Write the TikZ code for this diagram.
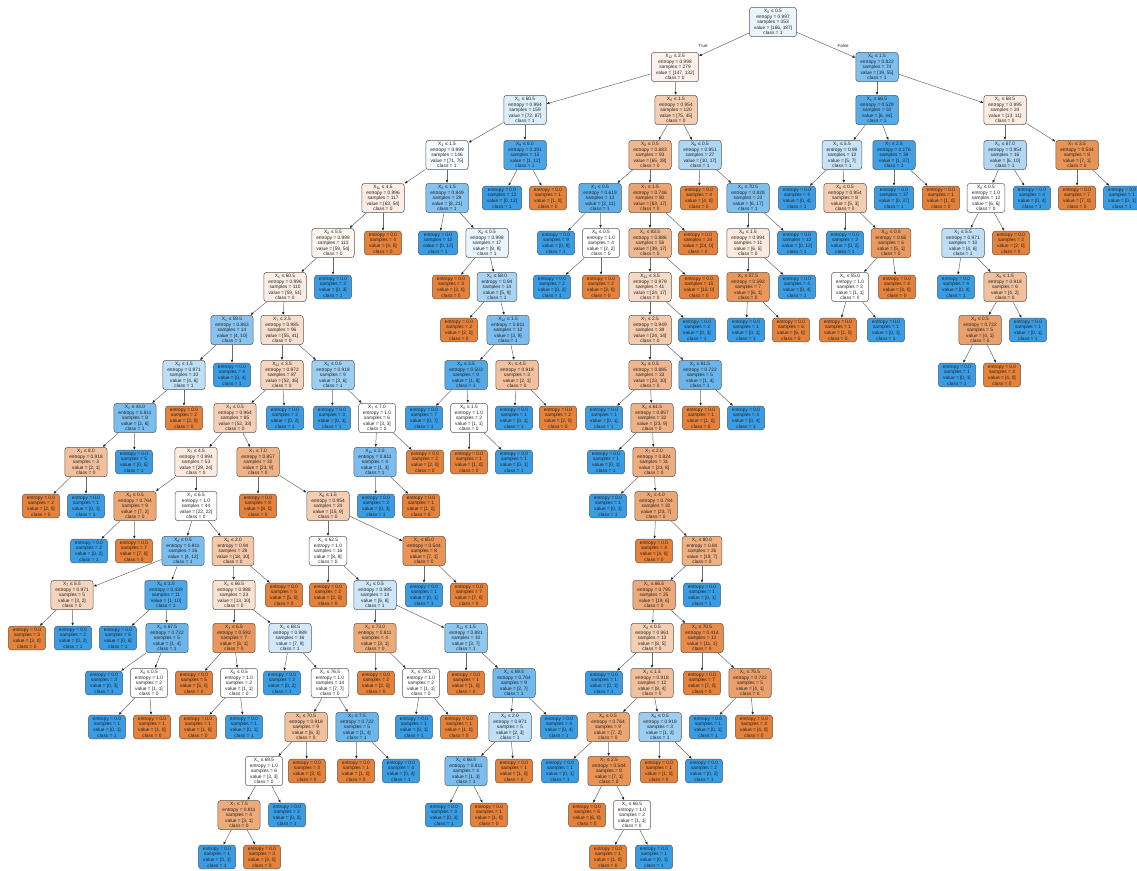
\documentclass[tikz,border=0pt]{standalone}
\usepackage{fontspec}
\setmainfont{Liberation Sans}
\usetikzlibrary{arrows.meta}
\definecolor{dtorange}{HTML}{E58139}
\definecolor{dtblue}{HTML}{399DE5}
\definecolor{dtink}{HTML}{222222}
\definecolor{dtedge}{HTML}{6A6A6A}
\newcommand{\dtsplit}[6]{X\textsubscript{#1} ≤ #2\\entropy = #3\\samples = #4\\value = [#5]\\class = #6}
\tikzset{
  treebox/.style={draw=black!65,rounded corners=3pt,line width=0.5pt,align=center,
    inner xsep=4.5pt,inner ysep=1.8pt,text=dtink,font=\fontsize{4.8}{5.6}\selectfont},
  orangeleaf/.style={treebox,fill=dtorange},
  blueleaf/.style={treebox,fill=dtblue},
  treeedge/.style={draw=dtedge,line width=0.5pt,-{Latex[length=3pt,width=2.6pt,color=black!85]}},
  edgelabel/.style={font=\fontsize{4.5}{5}\selectfont,text=dtink,inner sep=0pt},
}

\begin{document}
\begin{tikzpicture}[x=1pt,y=-1pt]
  \useasboundingbox (0,0) rectangle (1137,870);
  % split nodes
  \node[treebox,fill=dtblue!11!white] (t0) at (773,22) {\dtsplit{0}{0.5}{0.997}{353}{166, 187}{1}};
  \node[treebox,fill=dtorange!10!white] (t1) at (675,67) {\dtsplit{12}{2.5}{0.998}{279}{147, 132}{0}};
  \node[treebox,fill=dtblue!65!white] (t2) at (877,67) {\dtsplit{6}{1.5}{0.822}{74}{19, 55}{1}};
  \node[treebox,fill=dtblue!17!white] (t3) at (525,110) {\dtsplit{1}{60.5}{0.994}{159}{72, 87}{1}};
  \node[treebox,fill=dtorange!40!white] (t4) at (676,110) {\dtsplit{6}{1.5}{0.954}{120}{75, 45}{0}};
  \node[treebox,fill=dtblue!86!white] (t5) at (877,110) {\dtsplit{1}{66.5}{0.529}{50}{6, 44}{1}};
  \node[treebox,fill=dtorange!15!white] (t6) at (1005,110) {\dtsplit{1}{68.5}{0.995}{24}{13, 11}{0}};
  \node[treebox,fill=dtblue!5!white] (t7) at (447,155) {\dtsplit{3}{1.5}{0.999}{146}{71, 75}{1}};
  \node[treebox,fill=dtblue!92!white] (t8) at (525,155) {\dtsplit{8}{6.0}{0.391}{13}{1, 12}{1}};
  \node[treebox,fill=dtorange!14!white] (t11) at (383,198) {\dtsplit{11}{4.5}{0.996}{117}{63, 54}{0}};
  \node[treebox,fill=dtblue!62!white] (t12) at (447,198) {\dtsplit{8}{1.5}{0.849}{29}{8, 21}{1}};
  \node[treebox,fill=dtblue!11!white] (t14) at (487,243) {\dtsplit{8}{0.5}{0.998}{17}{8, 9}{1}};
  \node[treebox,fill=dtblue!44!white] (t16) at (497,287) {\dtsplit{1}{58.0}{0.94}{14}{5, 9}{1}};
  \node[treebox,fill=dtblue!67!white] (t18) at (508,330) {\dtsplit{12}{1.5}{0.811}{12}{3, 9}{1}};
  \node[treebox,fill=dtblue!88!white] (t19) at (466,375) {\dtsplit{8}{3.5}{0.503}{9}{1, 8}{1}};
  \node[treebox,fill=dtorange!50!white] (t20) at (517,375) {\dtsplit{7}{4.5}{0.918}{3}{2, 1}{0}};
  \node[treebox,fill=white] (t22) at (469,418) {\dtsplit{8}{1.5}{1.0}{2}{1, 1}{0}};
  \node[treebox,fill=dtorange!8!white] (t27) at (333,243) {\dtsplit{8}{5.5}{0.999}{113}{59, 54}{0}};
  \node[treebox,fill=dtorange!14!white] (t29) at (285,287) {\dtsplit{1}{60.5}{0.996}{110}{59, 51}{0}};
  \node[treebox,fill=dtblue!60!white] (t31) at (232,330) {\dtsplit{1}{59.5}{0.863}{14}{4, 10}{1}};
  \node[treebox,fill=dtorange!25!white] (t32) at (282,330) {\dtsplit{7}{2.5}{0.985}{96}{55, 41}{0}};
  \node[treebox,fill=dtblue!33!white] (t33) at (184,375) {\dtsplit{8}{1.5}{0.971}{10}{4, 6}{1}};
  \node[treebox,fill=dtblue!67!white] (t35) at (135,418) {\dtsplit{1}{44.0}{0.811}{8}{2, 6}{1}};
  \node[treebox,fill=dtorange!50!white] (t37) at (86,462) {\dtsplit{1}{8.0}{0.918}{3}{2, 1}{0}};
  \node[treebox,fill=dtorange!33!white] (t41) at (282,375) {\dtsplit{12}{3.5}{0.972}{87}{52, 35}{0}};
  \node[treebox,fill=dtblue!50!white] (t42) at (333,375) {\dtsplit{0}{0.5}{0.918}{9}{3, 6}{1}};
  \node[treebox,fill=white] (t44) at (377,418) {\dtsplit{7}{7.0}{1.0}{6}{3, 3}{0}};
  \node[treebox,fill=dtblue!67!white] (t45) at (375,462) {\dtsplit{11}{2.0}{0.811}{4}{1, 3}{1}};
  \node[treebox,fill=dtorange!37!white] (t49) at (235,418) {\dtsplit{3}{0.5}{0.964}{85}{52, 33}{0}};
  \node[treebox,fill=dtorange!17!white] (t51) at (196,462) {\dtsplit{7}{4.5}{0.994}{53}{29, 24}{0}};
  \node[treebox,fill=dtorange!61!white] (t52) at (258,462) {\dtsplit{7}{7.0}{0.857}{32}{23, 9}{0}};
  \node[treebox,fill=dtorange!40!white] (t54) at (328,506) {\dtsplit{8}{1.5}{0.954}{24}{15, 9}{0}};
  \node[treebox,fill=white] (t55) at (328,551) {\dtsplit{1}{62.5}{1.0}{16}{8, 8}{0}};
  \node[treebox,fill=dtorange!86!white] (t56) at (424,551) {\dtsplit{1}{65.0}{0.544}{8}{7, 1}{0}};
  \node[treebox,fill=dtblue!25!white] (t60) at (375,595) {\dtsplit{4}{0.5}{0.985}{14}{6, 8}{1}};
  \node[treebox,fill=dtorange!67!white] (t61) at (375,638) {\dtsplit{1}{73.0}{0.811}{4}{3, 1}{0}};
  \node[treebox,fill=dtblue!57!white] (t62) at (466,638) {\dtsplit{12}{1.5}{0.881}{10}{3, 7}{1}};
  \node[treebox,fill=white] (t64) at (421,683) {\dtsplit{1}{78.5}{1.0}{2}{1, 1}{0}};
  \node[treebox,fill=dtblue!71!white] (t68) at (514,683) {\dtsplit{1}{69.5}{0.764}{9}{2, 7}{1}};
  \node[treebox,fill=dtblue!33!white] (t69) at (510,727) {\dtsplit{8}{2.0}{0.971}{5}{2, 3}{1}};
  \node[treebox,fill=dtblue!67!white] (t71) at (466,771) {\dtsplit{1}{66.5}{0.811}{4}{1, 3}{1}};
  \node[treebox,fill=dtorange!71!white] (t75) at (135,506) {\dtsplit{8}{0.5}{0.764}{9}{7, 2}{0}};
  \node[treebox,fill=white] (t76) at (196,506) {\dtsplit{1}{6.5}{1.0}{44}{22, 22}{0}};
  \node[treebox,fill=dtblue!67!white] (t79) at (183,551) {\dtsplit{8}{0.5}{0.811}{16}{4, 12}{1}};
  \node[treebox,fill=dtorange!44!white] (t80) at (233,551) {\dtsplit{8}{2.0}{0.94}{28}{18, 10}{0}};
  \node[treebox,fill=dtorange!33!white] (t81) at (72,595) {\dtsplit{7}{5.5}{0.971}{5}{3, 2}{0}};
  \node[treebox,fill=dtblue!90!white] (t82) at (166,595) {\dtsplit{8}{1.5}{0.439}{11}{1, 10}{1}};
  \node[treebox,fill=dtblue!75!white] (t86) at (167,638) {\dtsplit{1}{67.5}{0.722}{5}{1, 4}{1}};
  \node[treebox,fill=white] (t88) at (149,683) {\dtsplit{8}{0.5}{1.0}{2}{1, 1}{0}};
  \node[treebox,fill=dtorange!23!white] (t91) at (234,595) {\dtsplit{1}{66.5}{0.988}{23}{13, 10}{0}};
  \node[treebox,fill=dtorange!83!white] (t93) at (234,638) {\dtsplit{1}{6.5}{0.592}{7}{6, 1}{0}};
  \node[treebox,fill=dtblue!22!white] (t94) at (290,638) {\dtsplit{1}{68.5}{0.989}{16}{7, 9}{1}};
  \node[treebox,fill=white] (t96) at (239,683) {\dtsplit{8}{0.5}{1.0}{2}{1, 1}{0}};
  \node[treebox,fill=white] (t100) at (330,683) {\dtsplit{1}{76.5}{1.0}{14}{7, 7}{0}};
  \node[treebox,fill=dtorange!50!white] (t101) at (306,727) {\dtsplit{1}{70.5}{0.918}{9}{6, 3}{0}};
  \node[treebox,fill=dtblue!75!white] (t102) at (357,727) {\dtsplit{7}{7.5}{0.722}{5}{1, 4}{1}};
  \node[treebox,fill=white] (t105) at (264,771) {\dtsplit{1}{69.5}{1.0}{6}{3, 3}{0}};
  \node[treebox,fill=dtorange!67!white] (t107) at (239,815) {\dtsplit{7}{7.5}{0.811}{4}{3, 1}{0}};
  \node[treebox,fill=dtorange!57!white] (t111) at (650,155) {\dtsplit{8}{0.5}{0.883}{93}{65, 28}{0}};
  \node[treebox,fill=dtblue!41!white] (t112) at (700,155) {\dtsplit{8}{0.5}{0.951}{27}{10, 17}{1}};
  \node[treebox,fill=dtblue!82!white] (t113) at (600,198) {\dtsplit{1}{0.5}{0.619}{13}{2, 11}{1}};
  \node[treebox,fill=dtorange!73!white] (t114) at (650,198) {\dtsplit{7}{1.5}{0.746}{80}{63, 17}{0}};
  \node[treebox,fill=white] (t116) at (601,243) {\dtsplit{8}{0.5}{1.0}{4}{2, 2}{0}};
  \node[treebox,fill=dtorange!56!white] (t119) at (650,243) {\dtsplit{1}{83.5}{0.886}{56}{39, 17}{0}};
  \node[treebox,fill=dtorange!29!white] (t121) at (650,287) {\dtsplit{12}{3.5}{0.979}{41}{24, 17}{0}};
  \node[treebox,fill=dtorange!42!white] (t123) at (650,330) {\dtsplit{7}{2.5}{0.949}{38}{24, 14}{0}};
  \node[treebox,fill=dtorange!57!white] (t125) at (650,375) {\dtsplit{8}{0.5}{0.885}{33}{23, 10}{0}};
  \node[treebox,fill=dtblue!75!white] (t126) at (700,375) {\dtsplit{1}{61.5}{0.722}{5}{1, 4}{1}};
  \node[treebox,fill=dtorange!61!white] (t130) at (652,418) {\dtsplit{1}{61.5}{0.857}{32}{23, 9}{0}};
  \node[treebox,fill=dtorange!65!white] (t132) at (654,462) {\dtsplit{7}{2.0}{0.824}{31}{23, 8}{0}};
  \node[treebox,fill=dtorange!70!white] (t134) at (656,506) {\dtsplit{1}{4.0}{0.784}{30}{23, 7}{0}};
  \node[treebox,fill=dtorange!63!white] (t136) at (702,551) {\dtsplit{1}{80.0}{0.84}{26}{19, 7}{0}};
  \node[treebox,fill=dtorange!68!white] (t137) at (654,595) {\dtsplit{1}{66.5}{0.795}{25}{19, 6}{0}};
  \node[treebox,fill=dtorange!38!white] (t139) at (652,638) {\dtsplit{8}{0.5}{0.961}{13}{8, 5}{0}};
  \node[treebox,fill=dtorange!91!white] (t140) at (702,638) {\dtsplit{1}{70.5}{0.414}{12}{11, 1}{0}};
  \node[treebox,fill=dtorange!75!white] (t142) at (750,683) {\dtsplit{1}{75.5}{0.722}{5}{4, 1}{0}};
  \node[treebox,fill=dtorange!50!white] (t146) at (652,683) {\dtsplit{1}{1.5}{0.918}{12}{8, 4}{0}};
  \node[treebox,fill=dtorange!71!white] (t147) at (608,727) {\dtsplit{8}{0.5}{0.764}{9}{7, 2}{0}};
  \node[treebox,fill=dtblue!50!white] (t148) at (660,727) {\dtsplit{8}{0.5}{0.918}{3}{1, 2}{1}};
  \node[treebox,fill=dtorange!86!white] (t152) at (609,771) {\dtsplit{7}{2.5}{0.544}{8}{7, 1}{0}};
  \node[treebox,fill=white] (t154) at (632,815) {\dtsplit{1}{66.5}{1.0}{2}{1, 1}{0}};
  \node[treebox,fill=dtblue!65!white] (t158) at (748,198) {\dtsplit{1}{70.5}{0.828}{23}{6, 17}{1}};
  \node[treebox,fill=dtorange!17!white] (t159) at (748,243) {\dtsplit{8}{1.5}{0.994}{11}{6, 5}{0}};
  \node[treebox,fill=dtorange!83!white] (t161) at (748,287) {\dtsplit{1}{57.5}{0.592}{7}{6, 1}{0}};
  \node[treebox,fill=dtblue!29!white] (t165) at (842,155) {\dtsplit{1}{5.5}{0.98}{12}{5, 7}{1}};
  \node[treebox,fill=dtblue!97!white] (t166) at (894,155) {\dtsplit{7}{2.5}{0.176}{38}{1, 37}{1}};
  \node[treebox,fill=dtorange!40!white] (t170) at (845,198) {\dtsplit{8}{0.5}{0.954}{8}{5, 3}{0}};
  \node[treebox,fill=dtorange!80!white] (t172) at (891,243) {\dtsplit{12}{0.5}{0.65}{6}{5, 1}{0}};
  \node[treebox,fill=white] (t173) at (850,287) {\dtsplit{1}{55.0}{1.0}{2}{1, 1}{0}};
  \node[treebox,fill=dtblue!40!white] (t177) at (1005,155) {\dtsplit{1}{67.0}{0.954}{16}{6, 10}{1}};
  \node[treebox,fill=dtorange!86!white] (t178) at (1077,155) {\dtsplit{7}{3.5}{0.544}{8}{7, 1}{0}};
  \node[treebox,fill=white] (t181) at (986,198) {\dtsplit{8}{0.5}{1.0}{12}{6, 6}{0}};
  \node[treebox,fill=dtblue!33!white] (t183) at (963,243) {\dtsplit{1}{5.5}{0.971}{10}{4, 6}{1}};
  \node[treebox,fill=dtorange!50!white] (t186) at (1005,287) {\dtsplit{8}{1.5}{0.918}{6}{4, 2}{0}};
  \node[treebox,fill=dtorange!75!white] (t187) at (980,330) {\dtsplit{4}{0.5}{0.722}{5}{4, 1}{0}};
  % leaves
  \foreach \nm/\x/\y/\s in {10/548/198/1,15/451/287/3,17/459/330/2,23/469/462/1,26/558/418/2,
      28/383/243/4,36/184/418/2,39/41/506/2,46/425/462/2,48/421/506/1,53/258/506/8,
      58/469/595/7,59/328/595/2,63/376/683/2,66/459/727/1,67/466/683/1,72/514/771/1,
      74/489/815/1,78/134/551/7,83/27/638/3,90/152/727/1,92/284/595/5,95/194/683/5,
      97/198/727/1,103/356/771/1,106/307/771/3,110/262/857/3,118/601/287/2,120/698/243/24,
      122/699/287/15,127/701/418/1,135/654/551/4,141/702/683/7,144/754/727/4,149/659/771/1,
      153/587/815/6,155/608/857/1,157/699/198/4,164/791/330/6,168/941/198/1,174/897/287/4,
      175/838/330/1,179/1077/198/7,184/1011/243/2,190/1002/375/4}
    {\node[orangeleaf] (t\nm) at (\x,\y) {entropy = 0.0\\samples = \s\\value = [\s, 0]\\class = 0};}
  \foreach \nm/\x/\y/\s in {9/502/198/12,13/438/243/12,21/424/418/7,24/514/462/1,25/514/418/1,
      30/333/287/3,34/232/375/4,38/134/462/5,40/86/506/1,43/332/418/3,47/376/506/3,
      50/285/418/2,57/424/595/1,65/414/727/1,70/559/727/4,73/444/815/3,77/89/551/2,
      84/73/638/2,85/118/638/6,87/104/683/3,89/107/727/1,98/244/727/1,99/282/683/2,
      104/401/771/4,108/287/815/2,109/217/857/1,115/556/243/9,117/552/287/2,124/697/330/3,
      128/746/418/4,129/604/418/1,131/606/462/1,133/608/506/1,138/702/595/1,143/708/727/1,
      145/604/683/1,150/704/771/2,151/560/771/1,156/654/857/1,160/797/243/12,162/797/287/4,
      163/746/330/1,167/894/198/37,169/797/198/4,171/845/243/2,176/886/330/1,180/1122/198/1,
      182/1032/198/4,185/956/287/4,188/1028/330/1,189/957/375/1}
    {\node[blueleaf] (t\nm) at (\x,\y) {entropy = 0.0\\samples = \s\\value = [0, \s]\\class = 1};}
  % edges: parent/left/right
  \foreach \p/\l/\r in {0/1/2,1/3/4,2/5/6,3/7/8,8/9/10,7/11/12,12/13/14,14/15/16,16/17/18,
      18/19/20,19/21/22,22/23/24,20/25/26,11/27/28,27/29/30,29/31/32,31/33/34,33/35/36,
      35/37/38,37/39/40,32/41/42,42/43/44,44/45/46,45/47/48,41/49/50,49/51/52,52/53/54,
      54/55/56,56/57/58,55/59/60,60/61/62,61/63/64,64/65/66,62/67/68,68/69/70,69/71/72,
      71/73/74,51/75/76,75/77/78,76/79/80,79/81/82,81/83/84,82/85/86,86/87/88,88/89/90,
      80/91/92,91/93/94,93/95/96,96/97/98,94/99/100,100/101/102,102/103/104,101/105/106,
      105/107/108,107/109/110,4/111/112,111/113/114,113/115/116,116/117/118,114/119/120,
      119/121/122,121/123/124,123/125/126,126/127/128,125/129/130,130/131/132,132/133/134,
      134/135/136,136/137/138,137/139/140,140/141/142,142/143/144,139/145/146,146/147/148,
      148/149/150,147/151/152,152/153/154,154/155/156,112/157/158,158/159/160,159/161/162,
      161/163/164,5/165/166,166/167/168,165/169/170,170/171/172,172/173/174,173/175/176,
      6/177/178,178/179/180,177/181/182,181/183/184,183/185/186,186/187/188,187/189/190}
    {\draw[treeedge] (t\p) -- (t\l);
     \draw[treeedge] (t\p) -- (t\r);}
  \node[edgelabel] (ltrue) at (703,46) {True};
  \node[edgelabel] (lfalse) at (843,46) {False};
\end{tikzpicture}
\end{document}
